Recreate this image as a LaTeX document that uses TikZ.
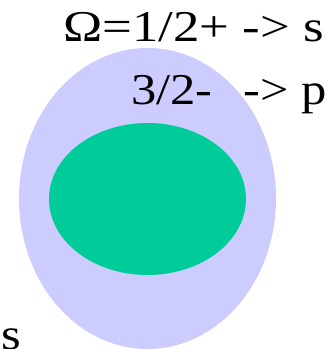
\documentclass[tikz,border=0pt]{standalone}
\usepackage{fontspec}
\setmainfont{Liberation Serif}
\definecolor{lav}{RGB}{204,204,255}
\definecolor{grn}{RGB}{0,204,153}
\tikzset{lbl/.style={inner sep=0pt, font=\fontsize{44}{44}\selectfont}}
\begin{document}
\begin{tikzpicture}[x=1pt,y=-1pt]
\useasboundingbox (0,0) rectangle (331,349);
\fill[lav] (147.5,198.5) ellipse [x radius=128.5, y radius=150.5];
\fill[grn] (147.5,199) ellipse [x radius=98.5, y radius=76];
\node[lbl, anchor=base west] (l1) at (63,41) {\scalebox{1.2}[1]{Ω=1/2+ -> s}};
\node[lbl, anchor=base west] (l2) at (131,104) {\scalebox{1.15}[1]{3/2-\hspace{27pt}-> p}};
\node[lbl, anchor=base west] (l3) at (1,349) {\scalebox{1.15}[1]{s}};
\end{tikzpicture}
\end{document}
